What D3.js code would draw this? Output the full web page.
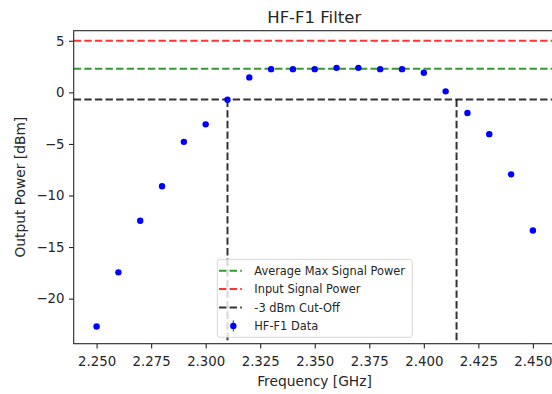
<!DOCTYPE html>
<html>
<head>
<meta charset="utf-8">
<script src="https://cdn.jsdelivr.net/npm/d3@7"></script>
<style>
  body { margin: 0; background: #fff; }
  svg { display: block; font-family: "DejaVu Sans", sans-serif; }
</style>
</head>
<body>
<div id="chart"></div>
<script>
// Output power of the HF-F1 filter, one reading every 10 MHz
const freqGHz = [2.25, 2.26, 2.27, 2.28, 2.29, 2.30, 2.31, 2.32, 2.33, 2.34, 2.35,
  2.36, 2.37, 2.38, 2.39, 2.40, 2.41, 2.42, 2.43, 2.44, 2.45];
const powerDbm = [-22.7, -17.45, -12.45, -9.1, -4.8, -3.1, -0.72, 1.45, 2.25, 2.25, 2.25,
  2.38, 2.38, 2.25, 2.25, 1.9, 0.1, -2.0, -4.05, -7.95, -13.4];

const inputPower = 5;            // dBm fed into the filter
const avgMaxPower = 2.3;         // mean of the pass-band plateau
const cutOff = avgMaxPower - 3;  // -3 dB point
const cutOffFreqs = [2.31, 2.415];

const xTicks = [2.25, 2.275, 2.3, 2.325, 2.35, 2.375, 2.4, 2.425, 2.45];
const yTicks = [-20, -15, -10, -5, 0, 5];

const legendLabels = ['Average Max Signal Power', 'Input Signal Power', '-3 dBm Cut-Off', 'HF-F1 Data'];

const width = 552, height = 394;
const ink = '#262626';
const red = 'rgba(255,0,0,0.8)';
const green = 'rgba(0,128,0,0.8)';
const black = 'rgba(0,0,0,0.8)';
const dash = '7.4,3.2';

const svg = d3.select('#chart').append('svg')
  .attr('width', width)
  .attr('height', height);

const x = d3.scaleLinear().domain([2.2395, 2.4605]).range([73.7, 555.8]);
const y = d3.scaleLinear().domain([-24.37, 5.98]).range([343.7, 30.7]);

const [x0, x1] = x.range();
const [y0, y1] = y.range();

svg.append('clipPath').attr('id', 'plot-clip')
  .append('rect')
  .attr('x', x0).attr('y', y1)
  .attr('width', x1 - x0).attr('height', y0 - y1);

const plot = svg.append('g').attr('clip-path', 'url(#plot-clip)');

// reference levels across the whole band
const hLines = [
  { v: avgMaxPower, c: green },
  { v: inputPower, c: red },
  { v: cutOff, c: black },
];
plot.selectAll('line.level')
  .data(hLines)
  .join('line')
  .attr('class', 'level')
  .attr('x1', x0).attr('x2', x1)
  .attr('y1', d => y(d.v)).attr('y2', d => y(d.v))
  .attr('stroke', d => d.c)
  .attr('stroke-width', 2)
  .attr('stroke-dasharray', dash);

// cut-off frequencies, dropped from the -3 dB level to the axis
plot.selectAll('line.cut')
  .data(cutOffFreqs)
  .join('line')
  .attr('class', 'cut')
  .attr('x1', d => x(d)).attr('x2', d => x(d))
  .attr('y1', y(cutOff)).attr('y2', y0)
  .attr('stroke', black)
  .attr('stroke-width', 2)
  .attr('stroke-dasharray', dash);

plot.selectAll('circle')
  .data(freqGHz)
  .join('circle')
  .attr('cx', d => x(d))
  .attr('cy', (d, i) => y(powerDbm[i]))
  .attr('r', 3.2)
  .attr('fill', '#0000ff');

// axes
const xAxis = svg.append('g')
  .attr('transform', `translate(0,${y0})`)
  .call(d3.axisBottom(x).tickValues(xTicks).tickFormat(d3.format('.3f'))
    .tickSize(4.7).tickPadding(8.3).tickSizeOuter(0));

const yAxis = svg.append('g')
  .attr('transform', `translate(${x0},0)`)
  .call(d3.axisLeft(y).tickValues(yTicks).tickFormat(d3.format('d'))
    .tickSize(4.7).tickPadding(4.5).tickSizeOuter(0));

[xAxis, yAxis].forEach(g => {
  g.attr('font-family', null).attr('font-size', 13.3).attr('color', ink);
  g.select('.domain').remove();
  g.selectAll('.tick line').attr('stroke-width', 1.1);
});

// frame (right edge falls outside the page)
svg.append('rect')
  .attr('x', x0).attr('y', y1)
  .attr('width', x1 - x0).attr('height', y0 - y1)
  .attr('fill', 'none')
  .attr('stroke', ink)
  .attr('stroke-width', 1.1);

svg.append('text')
  .attr('x', 314.2).attr('y', 23.3)
  .attr('text-anchor', 'middle')
  .attr('font-size', 16.5)
  .attr('fill', ink)
  .text('HF-F1 Filter');

svg.append('text')
  .attr('x', 314.5).attr('y', 386)
  .attr('text-anchor', 'middle')
  .attr('font-size', 13.8)
  .attr('fill', ink)
  .text('Frequency [GHz]');

svg.append('text')
  .attr('transform', 'translate(25,187.2) rotate(-90)')
  .attr('text-anchor', 'middle')
  .attr('font-size', 13.8)
  .attr('fill', ink)
  .text('Output Power [dBm]');

// legend
const legend = svg.append('g');
legend.append('rect')
  .attr('x', 217.3).attr('y', 259.3)
  .attr('width', 195).attr('height', 78)
  .attr('rx', 3)
  .attr('fill', 'rgba(255,255,255,0.8)')
  .attr('stroke', 'rgba(204,204,204,0.8)')
  .attr('stroke-width', 1);

const legendColors = [green, red, black];
const rowY = i => 270.7 + i * 18.4;

legend.selectAll('text')
  .data(legendLabels)
  .join('text')
  .attr('x', 254.3)
  .attr('y', (d, i) => rowY(i))
  .attr('dy', '0.36em')
  .attr('font-size', 11.4)
  .attr('fill', ink)
  .text(d => d);

legend.selectAll('line.handle')
  .data(legendColors)
  .join('line')
  .attr('class', 'handle')
  .attr('x1', 219).attr('x2', 241.8)
  .attr('y1', (d, i) => rowY(i)).attr('y2', (d, i) => rowY(i))
  .attr('stroke', d => d)
  .attr('stroke-width', 2)
  .attr('stroke-dasharray', dash);

const dataRow = rowY(3);
legend.append('line')
  .attr('x1', 233.3).attr('x2', 233.3)
  .attr('y1', dataRow - 5.5).attr('y2', dataRow + 5.5)
  .attr('stroke', '#333')
  .attr('stroke-width', 1);
legend.append('circle')
  .attr('cx', 233.3).attr('cy', dataRow)
  .attr('r', 3.2)
  .attr('fill', '#0000ff');
</script>
</body>
</html>
